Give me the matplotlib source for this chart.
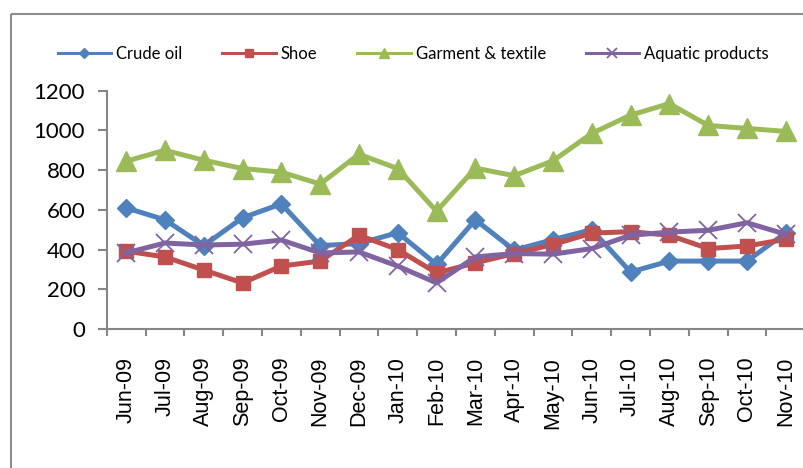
import matplotlib
matplotlib.use("Agg")
import matplotlib.pyplot as plt
from matplotlib.patches import Rectangle

months = ["Jun-09", "Jul-09", "Aug-09", "Sep-09", "Oct-09", "Nov-09", "Dec-09",
          "Jan-10", "Feb-10", "Mar-10", "Apr-10", "May-10", "Jun-10", "Jul-10",
          "Aug-10", "Sep-10", "Oct-10", "Nov-10"]
crude_oil = [610, 550, 420, 560, 630, 420, 430, 485, 325, 550, 397, 450, 500, 287, 342, 342, 342, 485]
shoe = [392, 363, 297, 232, 317, 342, 472, 400, 282, 333, 380, 425, 483, 490, 472, 405, 418, 452]
garment = [845, 900, 850, 808, 790, 730, 880, 808, 593, 810, 772, 847, 985, 1077, 1135, 1025, 1010, 995]
aquatic = [383, 433, 423, 427, 448, 383, 388, 317, 232, 363, 380, 377, 405, 472, 488, 497, 535, 477]
yticks = [0, 200, 400, 600, 800, 1000, 1200]

W, H = 804, 468
fig = plt.figure(figsize=(W / 100, H / 100), dpi=100)
fig.patch.set_facecolor("white")

# chart frame
fig.patches.append(Rectangle((11 / W, 1 - 14 / H), 900 / W, -600 / H,
                             transform=fig.transFigure, fill=False,
                             edgecolor="#8c8c8c", linewidth=1.5, zorder=0))

ax = fig.add_axes([106.7 / W, 1 - 329 / H, 698.5 / W, 238.3 / H])
x = list(range(len(months)))
lw = 3.6
ax.plot(x, crude_oil, color="#4F81BD", lw=lw, marker="D", ms=9,
        mfc="#4F81BD", mec="#4F81BD", label="Crude oil", clip_on=False)
ax.plot(x, shoe, color="#C0504D", lw=lw, marker="s", ms=10,
        mfc="#C0504D", mec="#C0504D", label="Shoe", clip_on=False)
ax.plot(x, garment, color="#9BBB59", lw=lw, marker="^", ms=14,
        mfc="#9BBB59", mec="#9BBB59", label="Garment & textile", clip_on=False)
ax.plot(x, aquatic, color="#8064A2", lw=lw, marker="x", ms=13, mew=1.3,
        mfc="#8064A2", mec="#8064A2", label="Aquatic products", clip_on=False)

ax.set_xlim(-0.5, len(months) - 0.5)
ax.set_ylim(0, 1200)
ax.set_yticks(yticks)
ax.set_yticklabels([str(v) for v in yticks], fontfamily="Lato", fontsize=16)
ax.set_xticks([i - 0.5 for i in range(len(months) + 1)])
ax.set_xticklabels([])
ax.set_xticks(x, minor=True)
ax.set_xticklabels(months, minor=True, rotation=90, fontfamily="Liberation Sans",
                   fontsize=15.5, ha="center", va="top")
ax.tick_params(axis="x", which="minor", length=0, pad=20)
ax.tick_params(axis="x", which="major", length=5, width=1.5, color="#868686", direction="out")
ax.tick_params(axis="y", length=6.5, width=1.5, color="#868686", direction="out", pad=9)

for s in ["top", "right"]:
    ax.spines[s].set_visible(False)
for s in ["left", "bottom"]:
    ax.spines[s].set_color("#868686")
    ax.spines[s].set_linewidth(1.5)

leg = fig.legend(loc="center left", bbox_to_anchor=(57.7 / W, 1 - 54 / H), ncol=4,
                 frameon=False, prop={"family": "Lato", "size": 12},
                 handlelength=3.2, handletextpad=0.3, columnspacing=2.4,
                 markerscale=0.55, borderaxespad=0, borderpad=0)
for line in leg.get_lines():
    line.set_linewidth(2.2)

fig.savefig("out.png", dpi=100)
